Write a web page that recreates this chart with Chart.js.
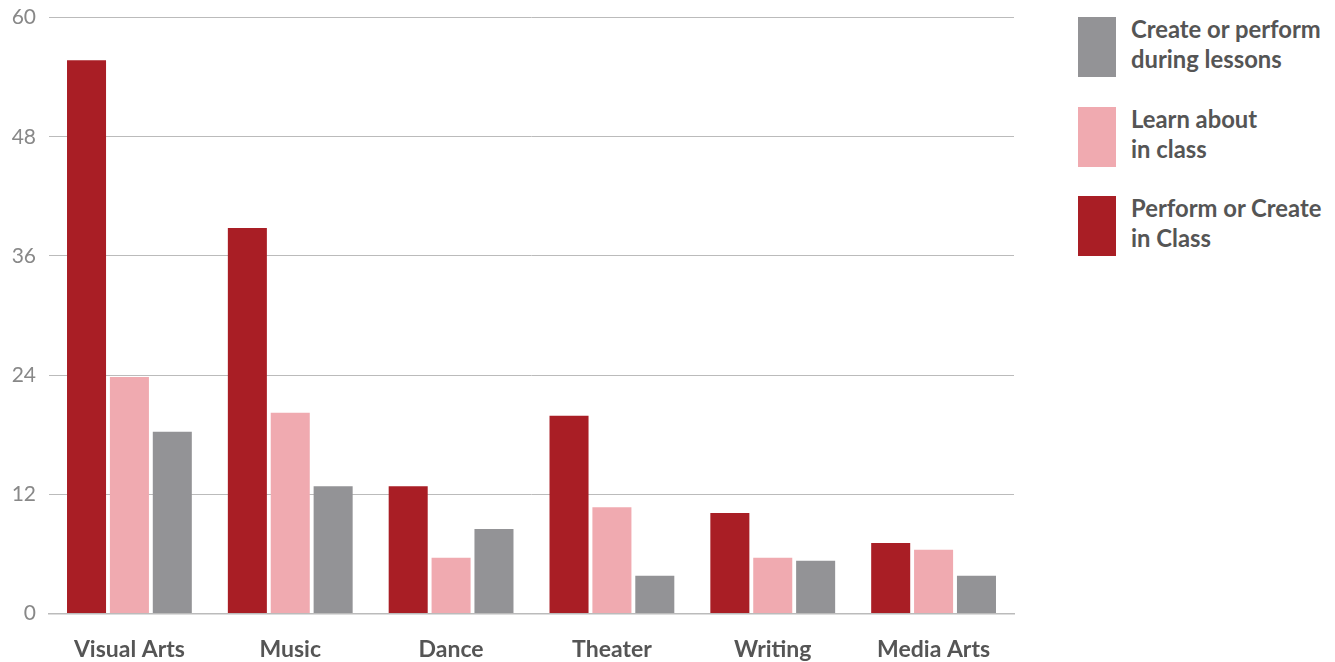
<!DOCTYPE html>
<html>
<head>
<meta charset="utf-8">
<script src="https://cdn.jsdelivr.net/npm/chart.js@4/dist/chart.umd.min.js"></script>
<style>
  body { margin: 0; background: #fff; font-family: Lato, "Open Sans", sans-serif; overflow: hidden; }
  #wrap { position: absolute; left: 0; top: -8px; width: 1022px; height: 685px; }
  #legend { position: absolute; left: 1078px; top: 17px; }
  .item { display: flex; align-items: flex-start; height: 60px; margin-bottom: 29.5px; }
  .sw { width: 38px; height: 60px; flex: none; }
  .txt { margin-left: 15px; margin-top: -3px; font-weight: bold; font-size: 23.8px; line-height: 30px; color: #555; white-space: nowrap; }
</style>
</head>
<body>
<div id="wrap"><canvas id="myChart"></canvas></div>
<div id="legend"></div>
<script>
const categories = ["Visual Arts", "Music", "Dance", "Theater", "Writing", "Media Arts"];
const performCreateClass = [55.7, 38.8, 12.8, 19.9, 10.1, 7.1];
const learnAbout = [23.8, 20.2, 5.6, 10.7, 5.6, 6.4];
const createDuringLessons = [18.3, 12.8, 8.5, 3.8, 5.3, 3.8];
const yTicks = [0, 12, 24, 36, 48, 60];

const seriesNames = [["Perform or Create", "in Class"], ["Learn about", "in class"], ["Create or perform", "during lessons"]];
const colors = ['#A91E25', '#F0AAB0', '#939396'];

const ctx = document.getElementById('myChart').getContext('2d');
const chart = new Chart(ctx, {
    type: 'bar',
    data: {
        labels: categories,
        datasets: [performCreateClass, learnAbout, createDuringLessons].map((d, i) => ({
            label: seriesNames[i].join(' '),
            data: d,
            backgroundColor: colors[i],
            categoryPercentage: 0.8,
            barPercentage: 0.91
        }))
    },
    options: {
        responsive: true,
        maintainAspectRatio: false,
        animation: false,
        layout: { padding: { top: 7, right: 8, bottom: 0, left: 0 } },
        plugins: { legend: { display: false }, tooltip: { enabled: false } },
        scales: {
            x: {
                grid: { display: false },
                border: { color: '#bbb', width: 1.5 },
                ticks: { color: '#555', font: { family: 'Lato', size: 23, weight: 'bold' }, padding: 14 }
            },
            y: {
                min: 0, max: 60,
                afterBuildTicks: s => { s.ticks = yTicks.map(v => ({ value: v })); },
                afterFit: s => { s.width = 49; },
                grid: { color: '#bbb', lineWidth: 1, drawTicks: false },
                border: { display: false },
                ticks: { color: '#888', font: { family: 'Lato', size: 21 }, padding: 13 }
            }
        }
    }
});

const legend = document.getElementById('legend');
[2, 1, 0].forEach(i => {
    const row = document.createElement('div');
    row.className = 'item';
    row.innerHTML = '<div class="sw" style="background:' + colors[i] + '"></div><div class="txt">' + seriesNames[i].join('<br>') + '</div>';
    legend.appendChild(row);
});
</script>
</body>
</html>
